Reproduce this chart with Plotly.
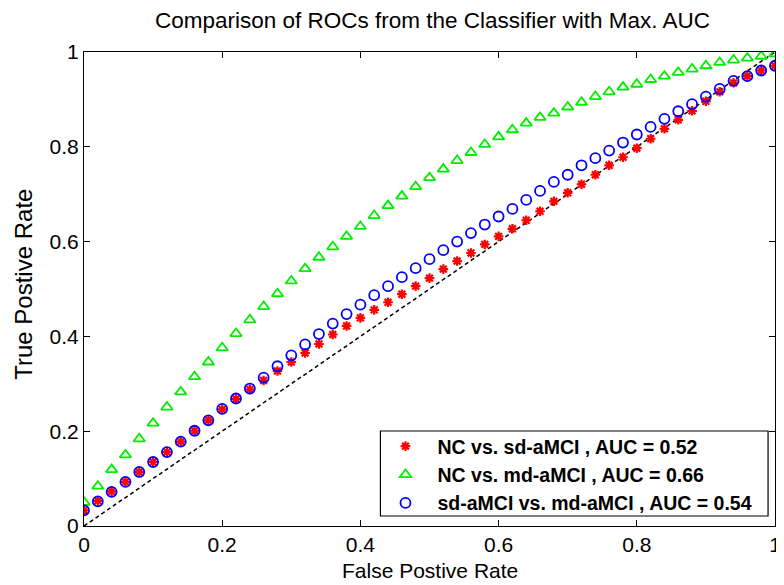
import plotly.graph_objects as go

fpr = [round(i * 0.02, 2) for i in range(51)]

tpr_nc_sd = [0.033, 0.053, 0.073, 0.093, 0.114, 0.135, 0.156, 0.178, 0.201, 0.223,
             0.246, 0.268, 0.288, 0.307, 0.327, 0.346, 0.365, 0.384, 0.404, 0.422,
             0.439, 0.456, 0.472, 0.489, 0.506, 0.523, 0.542, 0.559, 0.576, 0.594,
             0.611, 0.627, 0.645, 0.664, 0.685, 0.703, 0.721, 0.741, 0.761, 0.778,
             0.797, 0.817, 0.838, 0.857, 0.876, 0.896, 0.916, 0.935, 0.949, 0.961, 0.971]

tpr_nc_md = [0.050, 0.084, 0.119, 0.150, 0.184, 0.217, 0.251, 0.283, 0.315, 0.346,
             0.376, 0.406, 0.435, 0.463, 0.490, 0.517, 0.543, 0.567, 0.589, 0.611,
             0.632, 0.655, 0.676, 0.696, 0.716, 0.735, 0.753, 0.771, 0.788, 0.805,
             0.821, 0.836, 0.850, 0.862, 0.871, 0.884, 0.894, 0.906, 0.916, 0.926,
             0.932, 0.942, 0.949, 0.957, 0.964, 0.971, 0.978, 0.983, 0.987, 0.991, 0.996]

tpr_sd_md = [0.033, 0.052, 0.072, 0.093, 0.114, 0.135, 0.156, 0.178, 0.201, 0.223,
             0.247, 0.269, 0.290, 0.313, 0.337, 0.360, 0.383, 0.405, 0.427, 0.447,
             0.467, 0.487, 0.506, 0.525, 0.544, 0.563, 0.582, 0.600, 0.618, 0.636,
             0.653, 0.669, 0.688, 0.707, 0.726, 0.741, 0.761, 0.776, 0.792, 0.809,
             0.826, 0.842, 0.859, 0.875, 0.890, 0.906, 0.922, 0.939, 0.949, 0.961, 0.971]

diag_x = [0, 1]
diag_y = [0, 1]

names = ["NC vs. sd-aMCI , AUC = 0.52",
         "NC vs. md-aMCI , AUC = 0.66",
         "sd-aMCI vs. md-aMCI , AUC = 0.54"]

x_ticks = [0, 0.2, 0.4, 0.6, 0.8, 1]
y_ticks = [0, 0.2, 0.4, 0.6, 0.8, 1]
tick_text = ["0", "0.2", "0.4", "0.6", "0.8", "1"]

title_text = "Comparison of ROCs from the Classifier with Max. AUC"
x_title = "False Postive Rate"
y_title = "True Postive Rate"

FONT = "Liberation Sans, Arial, Helvetica, sans-serif"

fig = go.Figure()
fig.add_trace(go.Scatter(x=diag_x, y=diag_y, mode="lines",
                         line=dict(color="black", width=1.5, dash="4px,3px"),
                         showlegend=False, hoverinfo="skip"))
fig.add_trace(go.Scatter(x=fpr, y=tpr_nc_sd, mode="markers", name=names[0],
                         marker=dict(symbol="asterisk", size=8, color="#ff0000",
                                     line=dict(color="#ff0000", width=2.2))))
fig.add_trace(go.Scatter(x=fpr, y=tpr_nc_md, mode="markers", name=names[1],
                         marker=dict(symbol="triangle-up-open", size=10, color="#00ee00",
                                     line=dict(color="#00ee00", width=1.8))))
fig.add_trace(go.Scatter(x=fpr, y=tpr_sd_md, mode="markers", name=names[2],
                         marker=dict(symbol="circle-open", size=10, color="#0000ff",
                                     line=dict(color="#0000ff", width=1.8))))

axis_common = dict(
    showgrid=False, zeroline=False, showline=True, linecolor="black", linewidth=1.2,
    mirror="ticks", ticks="inside", ticklen=6, tickwidth=1.2, tickcolor="black",
    tickfont=dict(family=FONT, size=21, color="black"),
)

# plot area in pixels: left 76, right 773, top 44, bottom 518
PW, PH = 697.0, 474.0

fig.update_layout(
    width=784, height=585,
    margin=dict(l=76, r=11, t=44, b=67),
    paper_bgcolor="white", plot_bgcolor="white",
    title=dict(text=title_text, x=0.5415, xanchor="center", y=1 - 12 / 585, yanchor="middle",
               font=dict(family=FONT, size=22.5, color="black")),
    xaxis=dict(range=[0, 1], tickvals=x_ticks, ticktext=tick_text, **axis_common),
    yaxis=dict(range=[0, 1], tickvals=y_ticks, ticktext=tick_text, **axis_common),
    legend=dict(x=(368 - 76) / PW, y=(518 - 419) / PH, xanchor="left", yanchor="top",
                bgcolor="rgba(0,0,0,0)", borderwidth=0, itemwidth=54,
                font=dict(family=FONT, size=19.5, color="black", weight="bold")),
    showlegend=True,
    shapes=[dict(type="rect", xref="paper", yref="paper", layer="below",
                 x0=(375 - 76) / PW, x1=(766 - 76) / PW,
                 y0=(518 - 508) / PH, y1=(518 - 423) / PH,
                 line=dict(color="black", width=1.2), fillcolor="white")],
    annotations=[
        dict(text=x_title, xref="paper", yref="paper", x=0.5, y=(518 - 575) / PH,
             xanchor="center", yanchor="bottom", showarrow=False, borderpad=0,
             font=dict(family=FONT, size=21, color="black")),
        dict(text=y_title, xref="paper", yref="paper", x=(15 - 76) / PW, y=0.51,
             xanchor="center", yanchor="middle", showarrow=False, textangle=-90,
             font=dict(family=FONT, size=24, color="black")),
    ],
)

fig.write_html("out.html")
